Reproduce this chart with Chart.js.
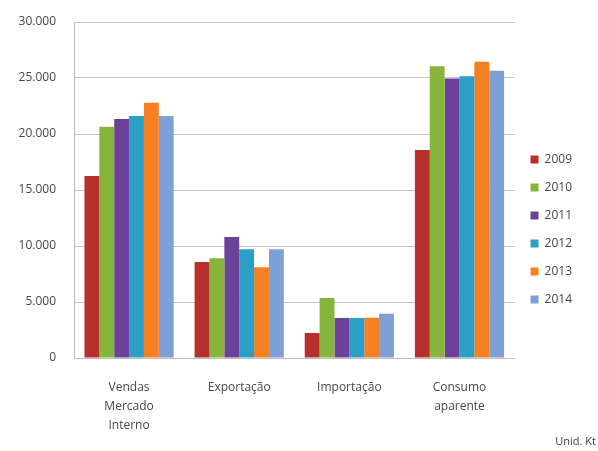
<!DOCTYPE html>
<html>
<head>
<meta charset="utf-8">
<script src="https://cdn.jsdelivr.net/npm/chart.js@4"></script>
<style>
  html, body { margin: 0; padding: 0; background: #fff; }
  #wrap { position: relative; width: 598px; height: 451px; }
  #unit { position: absolute; right: 2px; top: 433px; font: 11px 'Open Sans', sans-serif; color: #404040; }
</style>
</head>
<body>
<div id="wrap"><canvas id="chart" width="598" height="451"></canvas><div id="unit">Unid. Kt</div></div>
<script>
// Unid. Kt
const categories = [["Vendas", "Mercado", "Interno"], "Exportação", "Importação", ["Consumo", "aparente"]];
const years = ["2009", "2010", "2011", "2012", "2013", "2014"];
const v2009 = [16250, 8570, 2230, 18570];
const v2010 = [20650, 8900, 5350, 26050];
const v2011 = [21350, 10800, 3580, 24950];
const v2012 = [21600, 9700, 3580, 25150];
const v2013 = [22800, 8100, 3600, 26450];
const v2014 = [21600, 9700, 3950, 25650];
const yTicks = [0, 5000, 10000, 15000, 20000, 25000, 30000];

const series = [v2009, v2010, v2011, v2012, v2013, v2014];
const COLORS = ["#b8302e", "#86b43c", "#6b4199", "#2b9fc5", "#f58023", "#7f9fd7"];
const TXT = "#464646";
const fmt = (v) => String(v).replace(/\B(?=(\d{3})+(?!\d))/g, ".");

new Chart(document.getElementById("chart").getContext("2d"), {
  type: "bar",
  data: {
    labels: categories,
    datasets: years.map((y, i) => ({
      label: y, data: series[i], backgroundColor: COLORS[i], borderWidth: 0,
      categoryPercentage: 0.81, barPercentage: 1.0,
    })),
  },
  options: {
    responsive: false, animation: false,
    layout: { padding: { top: 8, right: 16, left: 0, bottom: 0 } },
    plugins: {
      legend: {
        position: "right",
        labels: { boxWidth: 8, boxHeight: 8, padding: 16, color: TXT, font: { size: 12, family: "'Open Sans', sans-serif" } },
      },
      tooltip: { enabled: false },
    },
    scales: {
      x: {
        grid: { display: false, drawTicks: false },
        border: { color: "#bdbdbd" },
        ticks: { color: TXT, padding: 20, maxRotation: 0, autoSkip: false, font: { size: 12, lineHeight: 1.6, family: "'Open Sans', sans-serif" } },
        afterFit: (s) => { s.height = 93; },
      },
      y: {
        min: 0, max: 30000,
        afterBuildTicks: (s) => { s.ticks = yTicks.map((v) => ({ value: v })); },
        grid: { color: "#c4c4c4", drawTicks: false },
        border: { color: "#bdbdbd" },
        ticks: { color: TXT, padding: 18, callback: (v) => fmt(v), font: { size: 12, family: "'Open Sans', sans-serif" } },
        afterFit: (s) => { s.width = 74; s.paddingTop = 22; s.paddingBottom = 0; },
      },
    },
  },
});
</script>
</body>
</html>
